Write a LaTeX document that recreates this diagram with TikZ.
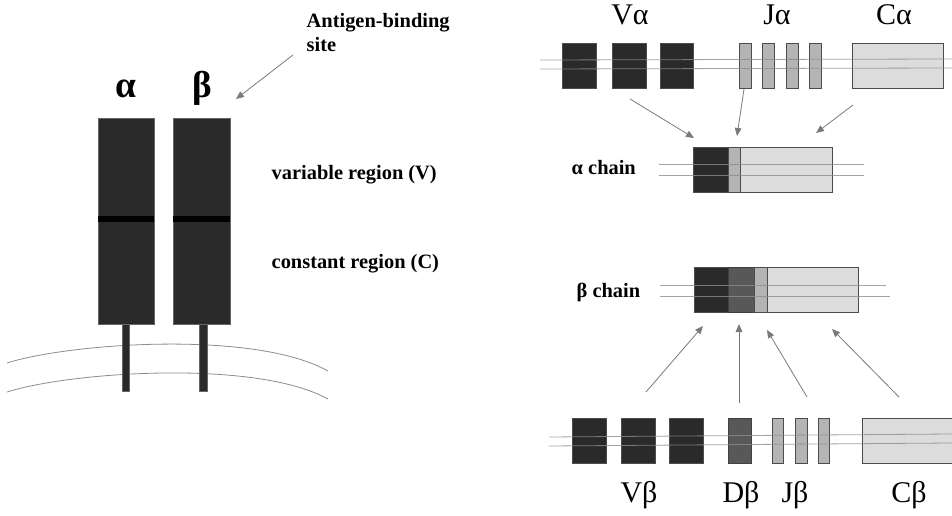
\documentclass[tikz,border=0pt]{standalone}
\usepackage{fontspec}
\setmainfont{Liberation Serif}
\usetikzlibrary{arrows.meta,fit}

\definecolor{segV}{HTML}{2A2A2A}
\definecolor{segD}{HTML}{585858}
\definecolor{segJ}{HTML}{B4B4B4}
\definecolor{segC}{HTML}{DCDCDC}
\definecolor{wire}{HTML}{8C8C8C}
\definecolor{pointer}{HTML}{7A7A7A}

\tikzset{
  seg/.style={rectangle, inner sep=0pt, draw=#1},
  vseg/.style={seg=black!70, fill=segV, line width=0.6pt},
  dseg/.style={seg=black!75, fill=segD, line width=0.6pt},
  jseg/.style={seg=black!70, fill=segJ, line width=0.6pt},
  cseg/.style={seg=black!70, fill=segC, line width=0.6pt},
  chainbox/.style={seg=black!60, fill=segV, line width=0.5pt},
  stem/.style={seg=black!60, fill=segV, line width=0.4pt},
  dna/.style={draw=wire, line width=0.6pt, draw opacity=0.8},
  membrane/.style={draw=black!45, line width=0.6pt},
  pointer/.style={draw=pointer, line width=0.6pt,
    -{Triangle[length=6pt,width=5pt]}},
  gene/.style={font=\fontsize{22.5}{26}\selectfont, anchor=base},
  note/.style={font=\bfseries\fontsize{15.3}{18}\selectfont, anchor=base west},
  chainname/.style={font=\bfseries\fontsize{28}{32}\selectfont, anchor=base}
}

\begin{document}
\begin{tikzpicture}[x=0.75pt, y=-0.75pt]
\useasboundingbox (0,0) rectangle (952,516);

% ---------- receptor in the membrane ----------
\path[membrane] (7,363) .. controls (70,343) and (255,330) .. (328,371);
\path[membrane] (7,392) .. controls (70,372) and (255,359) .. (328,399);

\node[stem, fit={(122,324) (129,391)}] (astem) {};
\node[stem, fit={(199,324) (207,391)}] (bstem) {};
\node[chainbox, fit={(98,118) (154,324)}] (achain) {};
\node[chainbox, fit={(173,118) (230,324)}] (bchain) {};
\draw[black, line width=4.5pt] (achain.west |- 0,219) -- (achain.east |- 0,219);
\draw[black, line width=4.5pt] (bchain.west |- 0,219) -- (bchain.east |- 0,219);

\node[chainname] (alab) at (126,98) {α};
\node[chainname] (blab) at (202,98) {β};

\node[note] (ag1) at (302,28) {Antigen-binding};
\node[note] (ag2) at (302,52) {site};
\node[note] (vreg) at (267,180) {variable region (V)};
\node[note] (creg) at (267,269) {constant region (C)};

\coordinate (agtail) at (293,55);
\coordinate (aghead) at (236,99);
\draw[pointer] (agtail) -- (aghead);

% ---------- alpha locus ----------
\node[vseg, fit={(562,43) (596,88)}] (va1) {};
\node[vseg, fit={(612,43) (646,88)}] (va2) {};
\node[vseg, fit={(660,43) (693,88)}] (va3) {};
\node[jseg, fit={(739,43) (751,88)}] (ja1) {};
\node[jseg, fit={(762,43) (774,88)}] (ja2) {};
\node[jseg, fit={(786,43) (798,88)}] (ja3) {};
\node[jseg, fit={(809,43) (821,88)}] (ja4) {};
\node[cseg, fit={(852,43) (943,88)}] (ca) {};
\draw[dna] (540,60) -- (952,59);
\draw[dna] (540,69) -- (952,68);

\node[gene] (valab) at (630,25) {Vα};
\node[gene] (jalab) at (777,25) {Jα};
\node[gene] (calab) at (894,25) {Cα};

% ---------- rearranged alpha chain ----------
\node[vseg, fit={(693,147) (728,192)}] (achV) {};
\node[jseg, fit={(728,147) (740,192)}] (achJ) {};
\node[cseg, fit={(740,147) (832,192)}] (achC) {};
\draw[dna] (659,164) -- (864,164);
\draw[dna] (659,175) -- (864,175);
\node[note] (achlab) at (567,175) {α chain};

\coordinate (a1t) at (630,99);  \coordinate (a1h) at (694,138);
\coordinate (a2t) at (744,89);  \coordinate (a2h) at (737,136);
\coordinate (a3t) at (853,105); \coordinate (a3h) at (816,133);
\draw[pointer] (a1t) -- (a1h);
\draw[pointer] (a2t) -- (a2h);
\draw[pointer] (a3t) -- (a3h);

% ---------- rearranged beta chain ----------
\node[vseg, fit={(694,267) (728,312)}] (bchV) {};
\node[dseg, fit={(728,267) (754,312)}] (bchD) {};
\node[jseg, fit={(754,267) (767,312)}] (bchJ) {};
\node[cseg, fit={(767,267) (858,312)}] (bchC) {};
\draw[dna] (660,285) -- (886,285);
\draw[dna] (660,296) -- (890,296);
\node[note] (bchlab) at (572,298) {β chain};

\coordinate (b1t) at (646,392); \coordinate (b1h) at (703,326);
\coordinate (b2t) at (739,403); \coordinate (b2h) at (739,324);
\coordinate (b3t) at (807,397); \coordinate (b3h) at (767,330);
\coordinate (b4t) at (899,397); \coordinate (b4h) at (832,329);
\draw[pointer] (b1t) -- (b1h);
\draw[pointer] (b2t) -- (b2h);
\draw[pointer] (b3t) -- (b3h);
\draw[pointer] (b4t) -- (b4h);

% ---------- beta locus ----------
\node[vseg, fit={(572,418) (606,463)}] (vb1) {};
\node[vseg, fit={(621,418) (655,463)}] (vb2) {};
\node[vseg, fit={(669,418) (703,463)}] (vb3) {};
\node[dseg, fit={(728,418) (751,463)}] (db1) {};
\node[jseg, fit={(772,418) (783,463)}] (jb1) {};
\node[jseg, fit={(795,418) (807,463)}] (jb2) {};
\node[jseg, fit={(818,418) (829,463)}] (jb3) {};
\node[cseg, fit={(862,418) (955,463)}] (cb) {};
\draw[dna] (549,437) -- (952,434);
\draw[dna] (549,446) -- (952,443);

\node[gene] (vblab) at (639,502) {Vβ};
\node[gene] (dblab) at (741,502) {Dβ};
\node[gene] (jblab) at (795,502) {Jβ};
\node[gene] (cblab) at (909,502) {Cβ};
\end{tikzpicture}
\end{document}
